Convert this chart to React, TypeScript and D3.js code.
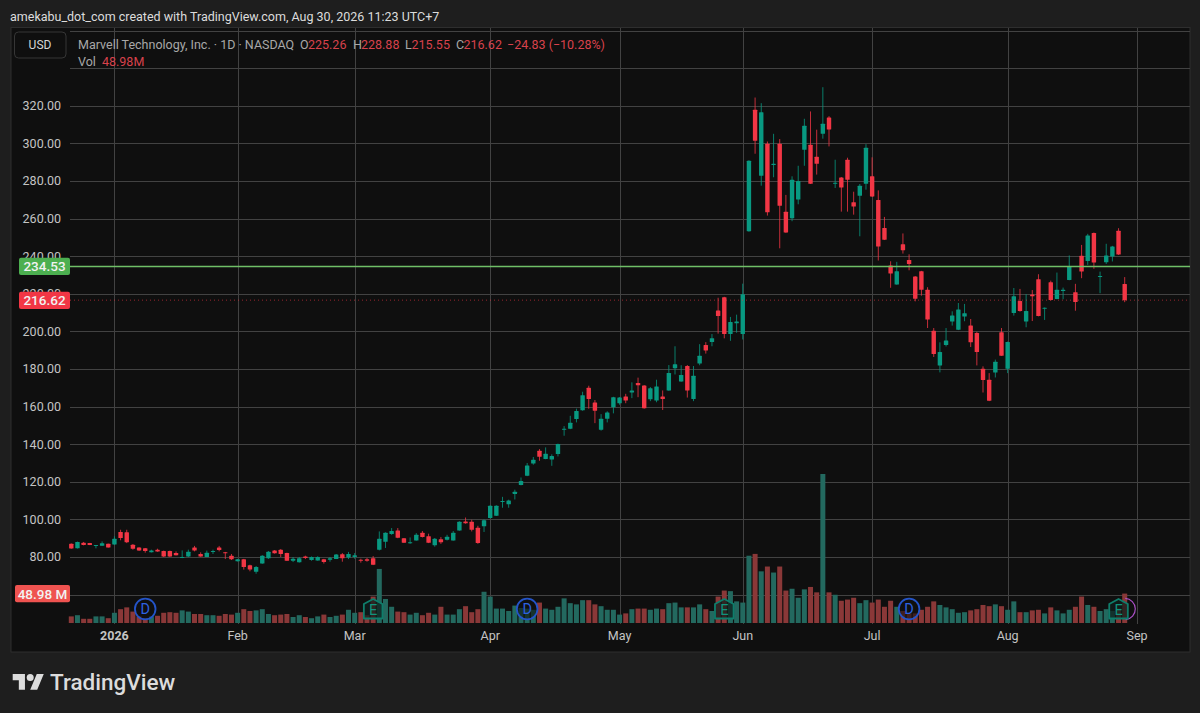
import React, { useRef, useEffect } from "react";
import * as d3 from "d3";

const opens = [
  87.0,84.6,87.6,87.4,85.9,86.0,87.0,86.7,93.3,93.1,
  86.5,85.0,84.6,82.5,83.9,83.2,83.2,82.1,79.5,80.2,
  85.0,81.6,80.0,82.8,85.1,82.5,80.7,77.7,78.8,75.6,
  72.2,76.6,79.3,83.4,83.9,82.1,78.0,77.2,80.2,78.4,
  78.2,78.8,78.6,79.0,81.4,79.8,80.0,78.6,78.8,79.3,
  83.9,88.1,92.2,94.1,90.0,87.4,88.8,92.9,91.0,86.3,
  89.4,89.2,88.8,94.1,98.9,98.8,95.6,96.3,100.7,102.0,
  109.2,108.0,113.5,118.3,123.2,129.8,136.5,132.1,131.9,134.8,
  147.7,148.2,153.4,158.0,170.0,162.2,147.7,153.5,159.6,161.8,
  165.4,167.5,172.5,171.2,163.9,163.2,165.4,168.6,180.4,173.4,
  181.6,164.1,182.9,192.7,194.3,211.1,218.2,198.6,204.3,198.6,
  253.3,317.9,282.8,299.8,288.5,299.8,263.7,260.2,270.1,296.6,
  299.3,292.9,305.1,313.8,278.8,281.9,291.3,268.7,272.2,278.6,
  282.5,269.9,255.0,235.0,225.0,246.4,238.0,229.2,232.0,222.2,
  200.4,181.9,192.8,205.2,200.9,207.9,203.1,199.1,180.1,174.3,
  178.2,199.5,180.1,209.8,216.2,205.2,219.6,227.7,212.1,226.1,
  217.3,221.5,227.4,220.8,240.2,237.5,252.3,229.0,236.8,239.8,
  253.5,225.26,
];

const highs = [
  87.2,88.2,88.0,87.5,86.4,88.3,87.1,91.0,94.5,94.5,
  86.9,85.2,84.8,83.9,84.4,83.4,83.4,83.0,83.5,83.9,
  85.9,82.5,83.4,83.9,85.9,82.7,81.6,79.0,79.0,75.9,
  75.2,81.0,83.2,83.7,84.2,82.3,80.0,80.0,80.7,80.3,
  80.4,79.0,80.0,81.6,82.1,82.7,82.1,79.1,79.5,80.5,
  93.6,93.1,95.4,95.4,90.1,90.4,92.7,93.8,92.4,90.1,
  90.6,91.8,93.8,99.0,101.0,99.8,96.6,100.0,107.5,107.5,
  112.0,110.5,115.8,122.3,130.0,133.2,137.4,138.3,134.6,140.3,
  149.6,155.1,158.9,167.9,171.1,163.5,156.0,157.5,165.2,165.0,
  166.8,172.9,175.4,171.4,170.4,174.3,168.6,182.1,192.1,182.0,
  182.1,181.6,193.2,194.3,198.6,217.9,218.4,207.7,208.9,225.4,
  291.0,324.4,321.4,301.0,305.1,302.3,272.6,282.5,288.1,313.1,
  317.0,307.3,329.9,314.5,291.3,282.1,292.4,274.3,278.4,299.6,
  292.6,275.0,260.9,237.3,237.0,252.1,241.0,229.4,232.2,223.5,
  201.8,194.2,201.8,210.7,215.1,214.6,206.6,199.8,181.4,177.8,
  185.0,201.8,194.6,223.1,222.6,219.8,222.0,230.4,212.7,227.0,
  231.3,223.3,240.4,225.3,246.0,251.9,252.6,231.8,246.6,245.5,
  254.9,228.88,
];

const lows = [
  84.4,84.5,86.2,86.3,84.6,85.9,85.0,86.5,88.9,87.4,
  83.9,83.2,82.3,82.4,82.8,80.0,80.0,80.8,79.4,80.0,
  83.0,80.1,80.0,81.6,83.0,78.9,78.4,77.6,73.3,72.4,
  71.1,76.4,79.0,81.8,80.0,77.9,77.3,77.0,78.9,78.0,
  78.0,76.5,77.5,78.9,77.5,78.9,79.1,77.0,77.5,75.7,
  83.5,84.8,91.8,90.0,87.5,87.0,88.7,90.4,87.4,85.5,
  87.0,88.8,88.7,94.0,97.7,93.6,87.0,93.3,100.5,101.8,
  106.2,106.2,110.6,118.1,123.0,129.1,131.2,132.0,128.5,133.5,
  144.5,148.0,151.6,157.8,158.9,151.2,147.2,151.6,156.4,161.0,
  161.8,164.5,165.0,158.9,162.9,162.3,158.2,168.4,177.1,173.2,
  164.8,162.9,182.0,188.2,192.1,198.8,196.3,195.0,199.3,195.7,
  253.0,294.5,277.5,261.6,282.0,244.2,252.4,258.6,267.6,288.1,
  278.4,283.4,302.5,298.4,276.3,263.7,263.7,262.1,250.6,275.4,
  271.5,237.7,248.6,223.2,224.8,241.4,232.5,216.0,219.0,201.8,
  186.4,178.2,192.0,203.1,200.7,205.4,191.7,181.9,167.5,162.9,
  175.5,187.0,177.8,208.4,210.5,202.2,205.5,208.0,206.1,216.4,
  217.1,217.1,227.2,211.0,228.3,235.4,233.3,220.3,235.9,237.2,
  240.7,215.55,
];

const closes = [
  84.5,88.0,86.4,86.4,86.4,87.3,85.1,89.7,90.1,87.8,
  84.4,83.4,83.2,83.4,82.9,80.3,80.2,80.9,80.0,82.8,
  83.4,80.2,82.3,83.2,83.7,82.1,78.8,78.8,74.7,73.3,
  74.7,80.7,82.8,82.0,81.6,78.0,79.1,79.3,79.5,80.0,
  80.0,77.3,79.3,81.3,79.3,81.6,80.9,78.0,78.0,75.9,
  89.7,92.9,93.8,90.2,87.6,87.9,91.8,90.6,87.6,89.7,
  87.9,90.8,92.9,98.8,98.0,94.5,87.4,99.5,107.3,107.3,
  109.8,110.0,114.7,120.4,128.7,131.7,133.3,134.9,133.7,140.1,
  148.2,151.4,157.6,166.0,164.0,157.8,153.5,156.9,165.0,164.8,
  163.2,168.6,171.4,159.1,169.8,170.7,164.1,177.9,182.5,176.8,
  168.6,176.4,187.0,189.8,196.4,208.2,198.6,205.0,205.2,219.8,
  290.8,301.4,316.6,263.4,289.2,266.9,252.6,280.7,280.0,309.4,
  278.6,289.2,310.4,307.4,279.1,276.5,280.7,266.4,277.5,297.7,
  271.7,245.1,248.8,230.8,232.0,243.2,235.9,217.4,222.2,206.3,
  188.0,189.0,195.2,208.4,211.6,209.6,194.2,189.0,174.1,163.1,
  183.9,187.1,194.4,218.7,210.9,210.9,218.7,208.2,212.6,216.7,
  222.1,222.1,234.8,215.7,231.8,251.0,236.6,229.5,240.4,245.2,
  240.9,216.62,
];

// volume in millions
const volumes = [
  11,13,7,7,11,11,8,17,23,26,
  19,11,8,11,12,17,18,17,21,19,
  15,15,13,13,12,15,14,17,23,20,
  21,23,15,13,14,15,10,13,10,8,
  11,14,10,12,14,22,17,18,13,44,
  90,40,27,19,18,14,17,13,17,14,
  27,14,14,23,28,18,23,52,44,24,
  24,20,29,25,24,22,34,24,22,27,
  41,33,31,38,38,31,28,22,22,14,
  16,23,24,24,22,24,23,33,34,26,
  26,26,31,23,20,44,54,53,36,34,
  112,115,86,94,84,94,54,57,42,56,
  60,51,248,51,47,37,39,42,33,38,
  34,39,27,37,27,20,16,16,22,27,
  36,30,26,23,17,18,21,23,30,28,
  31,28,22,36,18,18,21,22,16,26,
  21,16,22,27,44,30,27,20,23,20,
  24,48.98,
];

const priceTicks = [360, 340, 320, 300, 280, 260, 240, 220, 200, 180, 160, 140, 120, 100, 80, 60];
const labelledTicks = [320, 300, 280, 260, 240, 220, 200, 180, 160, 140, 120, 100, 80];
const monthLabels = ["2026", "Feb", "Mar", "Apr", "May", "Jun", "Jul", "Aug", "Sep"];
const monthIndex = [7, 27, 46, 68, 89, 109, 130, 152, 173];
const dividendIndex = [12, 74, 136];
const earningsIndex = [49, 106, 170];

const UP = "#089981";
const DOWN = "#f23645";
const FONT = "Roboto, sans-serif";

const App: React.FC = () => {
  const ref = useRef<SVGSVGElement | null>(null);

  useEffect(() => {
    document.body.style.margin = "0";
    const svg = d3.select(ref.current);
    svg.selectAll("*").remove();

    const x = d3.scaleLinear().domain([0, 171]).range([71.3, 1124.7]);
    const y = d3.scaleLinear().domain([80, 320]).range([557, 105.8]);
    const v = d3.scaleLinear().domain([0, 248]).range([623, 474]);
    const left = 70;
    const right = 1190;

    svg.append("rect").attr("width", 1200).attr("height", 713).attr("fill", "#1e1e1e");
    svg.append("rect")
      .attr("x", 11).attr("y", 27.5).attr("width", 1179).attr("height", 624.5)
      .attr("fill", "#0f0f0f").attr("stroke", "#2e2e2e");

    // grid
    const grid = svg.append("g").attr("stroke", "#424242").attr("stroke-width", 1);
    grid.selectAll("line.h").data(priceTicks).enter().append("line")
      .attr("x1", left).attr("x2", right)
      .attr("y1", (d) => Math.round(y(d)) + 0.5).attr("y2", (d) => Math.round(y(d)) + 0.5);
    grid.selectAll("line.v").data(monthIndex).enter().append("line")
      .attr("x1", (d) => Math.round(x(d)) + 0.5).attr("x2", (d) => Math.round(x(d)) + 0.5)
      .attr("y1", 28).attr("y2", 624);

    const isUp = (i: number) => closes[i] >= opens[i];

    // volume
    svg.append("g").selectAll("rect").data(volumes).enter().append("rect")
      .attr("x", (_, i) => x(i) - 2.5)
      .attr("width", 5)
      .attr("y", (d) => v(d))
      .attr("height", (d) => v(0) - v(d))
      .attr("fill", (_, i) => (isUp(i) ? "#23695f" : "#8a3838"));

    // candles
    const candles = svg.append("g").selectAll("g").data(opens).enter().append("g");
    candles.append("line")
      .attr("x1", (_, i) => x(i)).attr("x2", (_, i) => x(i))
      .attr("y1", (_, i) => y(highs[i])).attr("y2", (_, i) => y(lows[i]))
      .attr("stroke", (_, i) => (isUp(i) ? UP : DOWN))
      .attr("stroke-opacity", 0.8)
      .attr("stroke-width", 1);
    candles.append("rect")
      .attr("x", (_, i) => x(i) - 2.2)
      .attr("width", 4.4)
      .attr("y", (d, i) => y(Math.max(d, closes[i])))
      .attr("height", (d, i) => Math.max(1, Math.abs(y(d) - y(closes[i]))))
      .attr("rx", 0.5)
      .attr("fill", (_, i) => (isUp(i) ? UP : DOWN));

    // alert line and last price line
    svg.append("line")
      .attr("x1", left).attr("x2", right).attr("y1", y(234.53)).attr("y2", y(234.53))
      .attr("stroke", "#6fbf67").attr("stroke-width", 1.4);
    svg.append("line")
      .attr("x1", left).attr("x2", right).attr("y1", y(216.62)).attr("y2", y(216.62))
      .attr("stroke", DOWN).attr("stroke-opacity", 0.6).attr("stroke-dasharray", "1 3");

    // dividend markers
    const divs = svg.append("g").selectAll("g").data(dividendIndex).enter().append("g")
      .attr("transform", (d) => `translate(${x(d)},609)`);
    divs.append("circle").attr("r", 10.3)
      .attr("fill", "#0f0f0f").attr("fill-opacity", 0.6)
      .attr("stroke", "#2454c8").attr("stroke-width", 1.8);
    divs.append("text").text("D")
      .attr("text-anchor", "middle").attr("dy", "0.36em")
      .attr("font-family", FONT).attr("font-size", 14.5).attr("fill", "#2d62e0");

    // earnings markers
    svg.append("path")
      .attr("d", d3.arc()({ innerRadius: 10, outerRadius: 11.2, startAngle: 0.05, endAngle: 3.05 }) as string)
      .attr("transform", `translate(${x(171)},609)`)
      .attr("fill", "#a94fc4");
    const earns = svg.append("g").selectAll("g").data(earningsIndex).enter().append("g")
      .attr("transform", (d) => `translate(${x(d)},609)`);
    earns.append("path")
      .attr("d", "M0,-10 L9.3,-5 L9.3,9.5 L-9.3,9.5 L-9.3,-5 Z")
      .attr("fill", "#0f1f1c").attr("fill-opacity", 0.75)
      .attr("stroke", "#0f7d6b").attr("stroke-width", 1.8).attr("stroke-linejoin", "round");
    earns.append("text").text("E")
      .attr("text-anchor", "middle").attr("dy", "0.42em")
      .attr("font-family", FONT).attr("font-size", 14.5).attr("fill", "#12937d");

    // price axis labels
    svg.append("g").selectAll("text").data(labelledTicks).enter().append("text")
      .text((d) => d.toFixed(2))
      .attr("x", 61).attr("y", (d) => y(d)).attr("dy", "0.35em")
      .attr("text-anchor", "end")
      .attr("font-family", FONT).attr("font-size", 12.5).attr("fill", "#c4c4c4");

    // price tags
    const tag = (x0: number, y0: number, w: number, h: number, fill: string, label: string) => {
      svg.append("rect").attr("x", x0).attr("y", y0).attr("width", w).attr("height", h)
        .attr("rx", 2).attr("fill", fill);
      svg.append("text").text(label)
        .attr("x", x0 + w / 2).attr("y", y0 + h / 2).attr("dy", "0.36em")
        .attr("text-anchor", "middle")
        .attr("font-family", FONT).attr("font-size", 13.5).attr("font-weight", 500).attr("fill", "#f2f2f2");
    };
    tag(19, 257.7, 51, 17.3, "#4caf50", "234.53");
    tag(19, 291.7, 51, 17.3, DOWN, "216.62");
    tag(15, 585, 55, 17.3, "#ef5350", "48.98 M");

    // month labels
    svg.append("g").selectAll("text").data(monthLabels).enter().append("text")
      .text((d) => d)
      .attr("x", (_, i) => x(monthIndex[i])).attr("y", 638.5)
      .attr("dy", "0.1em")
      .attr("text-anchor", "middle")
      .attr("font-family", FONT).attr("font-size", 12.5)
      .attr("font-weight", (d) => (d === "2026" ? 700 : 400))
      .attr("fill", "#c4c4c4");

    // header
    svg.append("text").text("amekabu_dot_com created with TradingView.com, Aug 30, 2026 11:23 UTC+7")
      .attr("x", 10).attr("y", 21)
      .attr("font-family", FONT).attr("font-size", 12.5).attr("fill", "#dcdcdc");

    // currency box
    svg.append("rect").attr("x", 14.5).attr("y", 32).attr("width", 51.5).attr("height", 26)
      .attr("rx", 4).attr("fill", "#0f0f0f").attr("stroke", "#363636");
    svg.append("text").text("USD")
      .attr("x", 40).attr("y", 45).attr("dy", "0.36em").attr("text-anchor", "middle")
      .attr("font-family", FONT).attr("font-size", 12).attr("fill", "#d6d6d6");

    // legend
    const legend = (label: string, lx: number, ly: number, fill: string) => {
      svg.append("text").text(label).attr("x", lx).attr("y", ly)
        .attr("font-family", FONT).attr("font-size", 12.5).attr("fill", fill);
    };
    const grey = "#a8a8a8";
    const red = "#d8424c";
    legend("Marvell Technology, Inc. · 1D · NASDAQ", 78, 48.5, grey);
    legend("O", 300, 48.5, grey);
    legend(opens[171].toFixed(2), 308, 48.5, red);
    legend("H", 353, 48.5, grey);
    legend(highs[171].toFixed(2), 361, 48.5, red);
    legend("L", 405, 48.5, grey);
    legend(lows[171].toFixed(2), 411.5, 48.5, red);
    legend("C", 456, 48.5, grey);
    legend(closes[171].toFixed(2), 463.5, 48.5, red);
    legend("−24.83 (−10.28%)", 507, 48.5, red);
    legend("Vol", 78, 66, grey);
    legend("48.98M", 102, 66, red);

    // footer logo
    const logo = svg.append("g").attr("transform", "translate(12.7,670.5) scale(0.875)").attr("fill", "#dcdcdc");
    logo.append("path").attr("d", "M14 22H7V11H0V4h14v18zM28 22h-8l7.5-18h8L28 22z");
    logo.append("circle").attr("cx", 20).attr("cy", 8).attr("r", 4);
    svg.append("text").text("TradingView")
      .attr("x", 50).attr("y", 690)
      .attr("font-family", FONT).attr("font-size", 22.5).attr("font-weight", 500).attr("fill", "#dcdcdc");
  }, []);

  return <svg ref={ref} width={1200} height={713} style={{ display: "block" }} />;
};

export default App;
